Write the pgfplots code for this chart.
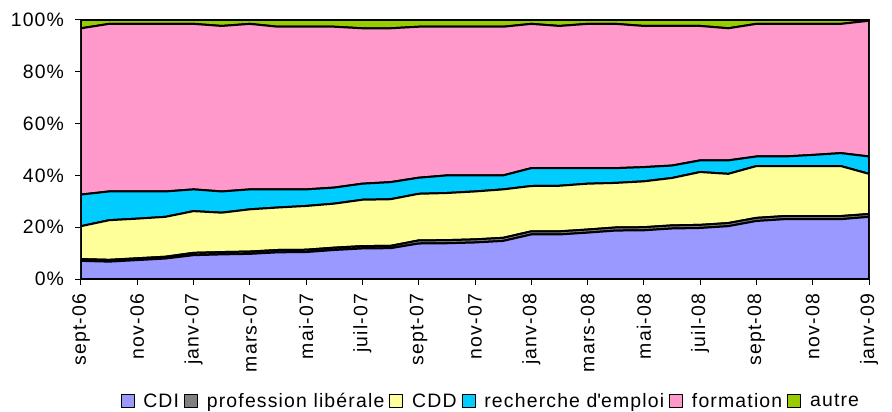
\documentclass[border=0pt]{standalone}
\usepackage{pgfplots}
\pgfplotsset{compat=1.18}
\usepackage{pgfplotstable}
\usepackage{fontspec}
\setmainfont{Liberation Sans}
\newfontfamily\chartfont[LetterSpace=6]{Liberation Sans}
\definecolor{cdi}{HTML}{9999FF}
\definecolor{lib}{HTML}{808080}
\definecolor{cdd}{HTML}{FFFF99}
\definecolor{rech}{HTML}{00CCFF}
\definecolor{form}{HTML}{FF99CC}
\definecolor{autre}{HTML}{99CC00}
\pgfplotstableread{
x cdi lib cdd rech form autre
0 7.0 0.7 12.7 12.2 64.2 3.2
1 6.7 0.7 15.3 11.1 64.7 1.5
2 7.3 0.7 15.3 10.5 64.7 1.5
3 7.9 0.7 15.4 9.8 64.7 1.5
4 9.2 0.9 16.1 8.4 63.9 1.5
5 9.5 0.9 15.2 8.2 63.9 2.3
6 9.7 0.9 16.3 7.7 63.9 1.5
7 10.3 0.9 16.4 7.0 62.8 2.6
8 10.4 0.9 16.9 6.4 62.8 2.6
9 11.2 0.9 17.0 6.2 62.1 2.6
10 11.8 0.9 17.9 6.2 60.0 3.2
11 11.9 0.9 18.0 6.6 59.4 3.2
12 13.7 1.2 18.0 6.2 58.3 2.6
13 13.8 1.2 18.2 6.8 57.4 2.6
14 14.1 1.2 18.5 6.2 57.4 2.6
15 14.7 1.2 18.7 5.4 57.4 2.6
16 17.2 1.2 17.5 6.9 55.7 1.5
17 17.2 1.2 17.6 6.8 54.9 2.3
18 17.9 1.2 17.7 6.0 55.7 1.5
19 18.7 1.2 17.2 5.7 55.7 1.5
20 18.8 1.2 17.7 5.5 54.5 2.3
21 19.5 1.2 18.3 4.8 53.9 2.3
22 19.7 1.2 20.4 4.5 51.9 2.3
23 20.4 1.2 19.0 5.2 51.0 3.2
24 22.4 1.2 20.0 3.7 51.2 1.5
25 23.1 1.2 19.3 3.7 51.2 1.5
26 23.1 1.2 19.3 4.3 50.6 1.5
27 23.1 1.2 19.3 5.0 49.9 1.5
28 24.0 1.1 15.5 6.7 52.4 0.3
}\datatable
\begin{document}
\begin{tikzpicture}
\useasboundingbox (-81bp,-133bp) rectangle (811bp,279bp);
\begin{axis}[
  at={(0,0)}, anchor=south west,
  scale only axis, width=788bp, height=259bp,
  stack plots=y,
  xmin=0, xmax=28, ymin=0, ymax=100,
  xtick={0,2,...,28},
  xticklabels={sept-06,nov-06,janv-07,mars-07,mai-07,juil-07,sept-07,nov-07,janv-08,mars-08,mai-08,juil-08,sept-08,nov-08,janv-09},
  ytick={0,20,...,100},
  yticklabels={0\%,20\%,40\%,60\%,80\%,100\%},
  xtick pos=left, ytick pos=left,
  tick align=outside,
  major tick length=6bp,
  tick style={black, line width=1bp},
  axis line style={black, line width=1.2bp},
  ticklabel style={font=\chartfont\fontsize{19.5}{19.5}\selectfont},
  xticklabel style={rotate=90, anchor=east, inner sep=2bp, outer sep=7bp},
  yticklabel style={inner sep=3bp, outer sep=8bp},
  legend columns=6,
  legend style={at={(0.52,-0.472)}, anchor=center, draw=none, fill=none,
    font=\chartfont\fontsize{19.5}{19.5}\selectfont,
    /tikz/every odd column/.append style={column sep=7bp},
    /tikz/every even column/.append style={column sep=3bp}},
  legend image code/.code={\draw[#1, draw=black, line width=0.8bp] (0bp,-6.5bp) rectangle (13bp,6.5bp);},
  every axis plot/.append style={draw=black, line width=2bp, line join=round},
]
\addplot[fill=cdi] table[x=x,y=cdi]{\datatable} \closedcycle;
\addplot[fill=lib] table[x=x,y=lib]{\datatable} \closedcycle;
\addplot[fill=cdd] table[x=x,y=cdd]{\datatable} \closedcycle;
\addplot[fill=rech] table[x=x,y=rech]{\datatable} \closedcycle;
\addplot[fill=form] table[x=x,y=form]{\datatable} \closedcycle;
\addplot[fill=autre] table[x=x,y=autre]{\datatable} \closedcycle;
\legend{CDI,profession libérale,CDD,recherche d\textquotesingle emploi,formation,autre}
\end{axis}
\end{tikzpicture}
\end{document}
